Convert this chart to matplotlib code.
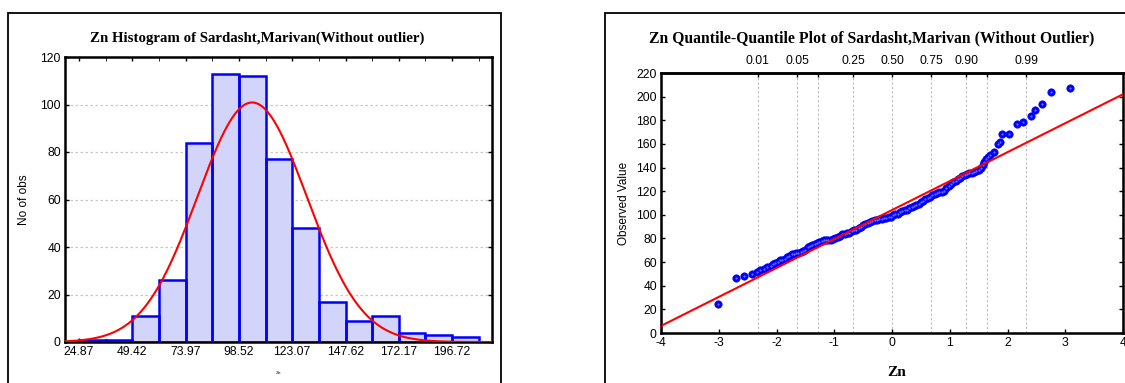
import numpy as np
import matplotlib.pyplot as plt
from matplotlib.patches import Rectangle

# ----- data ----- #
bin_start = 24.87
bin_width = 12.275
hist_counts = [1, 1, 11, 26, 84, 113, 112, 77, 48, 17, 9, 11, 4, 3, 2]
hist_ticks = [24.87, 49.42, 73.97, 98.52, 123.07, 147.62, 172.17, 196.72]
zn_mean = 104.6
zn_sd = 25.2

qq_z = [-3.02, -2.70, -2.56, -2.42, -2.34, -2.28, -2.22, -2.16, -2.10, -2.06,
        -2.02, -1.98, -1.94, -1.90, -1.86, -1.82, -1.78, -1.74, -1.70, -1.66,
        -1.62, -1.58, -1.54, -1.50, -1.46, -1.42, -1.38, -1.34, -1.30, -1.26,
        -1.22, -1.18, -1.14, -1.10, -1.06, -1.02, -0.98, -0.94, -0.90, -0.86,
        -0.82, -0.78, -0.74, -0.70, -0.66, -0.62, -0.58, -0.54, -0.50, -0.46,
        -0.42, -0.38, -0.34, -0.30, -0.26, -0.22, -0.18, -0.14, -0.10, -0.06,
        -0.02, 0.02, 0.06, 0.10, 0.14, 0.18, 0.22, 0.26, 0.30, 0.34,
        0.38, 0.42, 0.46, 0.50, 0.54, 0.58, 0.62, 0.66, 0.70, 0.74,
        0.78, 0.82, 0.86, 0.90, 0.94, 0.98, 1.02, 1.06, 1.10, 1.14,
        1.18, 1.22, 1.26, 1.30, 1.34, 1.38, 1.42, 1.46, 1.50, 1.54,
        1.57, 1.60, 1.63, 1.66, 1.70, 1.77, 1.83, 1.87, 1.91, 2.02,
        2.16, 2.27, 2.40, 2.48, 2.59, 2.76, 3.08]
qq_obs = [24.5, 46.5, 48, 49.6, 51.5, 53, 54.5, 55.5, 56.5, 58,
          59, 60, 61.5, 62, 63, 64, 65, 66.5, 67, 67.5,
          68, 68.5, 69.5, 70.5, 72.5, 73.5, 74.5, 75.5, 76, 77,
          77.5, 78.5, 79, 79, 79, 79.5, 80, 81, 82.5, 83.5,
          84, 84.5, 85, 86, 87, 87.5, 88.5, 90, 91, 92,
          93, 94, 95, 95.5, 96, 96.5, 96.8, 97, 97.5, 98,
          98.5, 99.5, 100.5, 101, 102, 103, 104, 104.5, 105.5, 106.5,
          107.5, 108.5, 109.5, 111, 112, 113, 114.5, 115.5, 116.5, 117.5,
          118.5, 119, 119.5, 120.5, 122.5, 124.5, 126.5, 128, 129, 130,
          131, 132.5, 133.5, 134.5, 135, 135.5, 136, 137, 138, 139.5,
          142, 144.5, 147, 149, 150.5, 153, 160, 161.5, 168.5, 168.5,
          177, 178.5, 184, 189, 194, 204, 207]
qq_intercept = 104.0
qq_slope = 24.5

prob_z = [-2.326, -1.645, -1.2816, -0.674, 0.0, 0.674, 1.2816, 1.645, 2.326]
prob_labels = ['0.01', '0.05', '', '0.25', '0.50', '0.75', '0.90', '', '0.99']

# ----- layout helpers (pixel positions of the 1125x383 picture) ----- #
W, H = 1125, 383
def fx(px):
    return px / W
def fy(py):
    return 1 - py / H

SANS = 'Liberation Sans'
SERIF = 'Liberation Serif'
plt.rcParams['font.family'] = SANS
plt.rcParams['axes.unicode_minus'] = False
plt.rcParams['hatch.color'] = '#9ea2ee'
plt.rcParams['hatch.linewidth'] = 0.4

fig = plt.figure(figsize=(11.25, 3.83), dpi=100)

# outer frames
for x0, x1 in [(8, 501), (605, 1140)]:
    fig.add_artist(Rectangle((fx(x0), fy(400)), fx(x1) - fx(x0), (400 - 13) / H,
                             transform=fig.transFigure, fill=False,
                             edgecolor='black', linewidth=1.3, clip_on=False))

def style_axes(ax):
    for s in ax.spines.values():
        s.set_linewidth(1.8)
    ax.tick_params(direction='in', length=3, width=1, labelsize=8.7,
                   top=True, right=True, labeltop=False, labelright=False, pad=3)

# ----- histogram ----- #
ax1 = fig.add_axes([fx(65), fy(342), fx(492) - fx(65), (342 - 57) / H])
edges = bin_start + bin_width * np.arange(len(hist_counts) + 1)
ax1.bar(edges[:-1], hist_counts, width=bin_width, align='edge',
        color='#d3d4fa', edgecolor='#d3d4fa', linewidth=0, hatch='xxxxx', zorder=2)
ax1.bar(edges[:-1], hist_counts, width=bin_width, align='edge',
        fill=False, edgecolor='#0000ff', linewidth=1.8, zorder=3)

xs = np.linspace(18.4, 215.1, 400)
pdf = sum(hist_counts) * bin_width / (zn_sd * np.sqrt(2 * np.pi)) * \
    np.exp(-0.5 * ((xs - zn_mean) / zn_sd) ** 2)
ax1.plot(xs, pdf, color='#ff0000', linewidth=1.5, zorder=4)

ax1.set_xlim(18.4, 215.1)
ax1.set_ylim(0, 120)
ax1.set_yticks(range(0, 121, 20))
ax1.set_xticks(hist_ticks)
ax1.set_xticklabels([f'{t:.2f}' for t in hist_ticks])
ax1.set_xticks(edges, minor=True)
ax1.tick_params(axis='x', which='minor', bottom=False, top=True, direction='in', length=3)
for yv in range(20, 101, 20):
    ax1.axhline(yv, color='#c8c8c8', linestyle=(0, (2, 2)), linewidth=0.9, zorder=1)
style_axes(ax1)

fig.text(fx(257), fy(38), 'Zn Histogram of Sardasht,Marivan(Without outlier)',
         family=SERIF, fontweight='bold', fontsize=10.7, ha='center', va='center')
fig.text(fx(24), fy(200), 'No of obs', rotation=90, fontsize=8.5,
         ha='center', va='center')
fig.text(fx(278), fy(373), 'Zn', family=SERIF, fontsize=3.5, ha='center', va='center')

# ----- normal probability plot ----- #
ax2 = fig.add_axes([fx(661), fy(333), fx(1123) - fx(661), (333 - 73) / H])
for z in prob_z:
    ax2.axvline(z, color='#bdbdbd', linestyle=(0, (2, 2)), linewidth=0.8, zorder=1)
line_x = np.array([-4, 4])
ax2.plot(line_x, qq_intercept + qq_slope * line_x, color='#ff0000',
         linewidth=1.5, zorder=3, clip_on=False)
ax2.plot(qq_z, qq_obs, 'o', color='#0000ff', markersize=5.3,
         markeredgecolor='#0000ff', markeredgewidth=0.5, zorder=2)
ax2.plot(qq_z, qq_obs, 'o', color='#6a6aff', markersize=1.6,
         markeredgewidth=0, zorder=2)
ax2.set_xlim(-4, 4)
ax2.set_ylim(0, 220)
ax2.set_xticks(range(-4, 5))
ax2.set_yticks(range(0, 221, 20))
style_axes(ax2)

top = ax2.twiny()
top.set_xlim(-4, 4)
top.set_xticks(prob_z)
top.set_xticklabels(prob_labels)
top.tick_params(direction='in', length=3, width=1, labelsize=8.7, pad=4)
top.spines['top'].set_linewidth(1.8)

fig.text(fx(872), fy(38), 'Zn Quantile-Quantile Plot of Sardasht,Marivan (Without Outlier)',
         family=SERIF, fontweight='bold', fontsize=11.3, ha='center', va='center')
fig.text(fx(624), fy(203), 'Observed Value', rotation=90, fontsize=8.5,
         ha='center', va='center')
fig.text(fx(897), fy(373), 'Zn', family=SERIF, fontweight='bold', fontsize=11,
         ha='center', va='center')

fig.savefig('out.png', dpi=100)
